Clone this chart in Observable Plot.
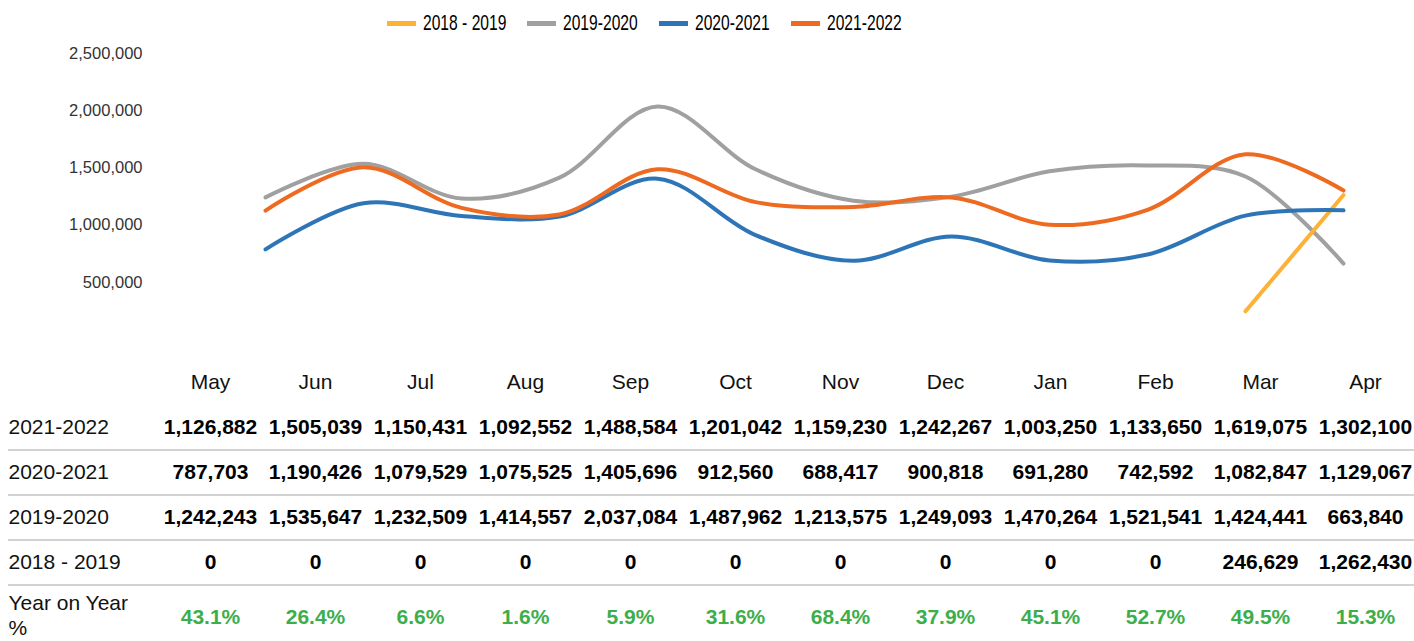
<!DOCTYPE html>
<html>
<head>
<meta charset="utf-8">
<script src="https://cdn.jsdelivr.net/npm/d3@7"></script>
<script src="https://cdn.jsdelivr.net/npm/@observablehq/plot@0.6"></script>
<style>
  html, body { margin: 0; padding: 0; background: #fff; }
  #wrap { position: relative; width: 1414px; height: 641px; overflow: hidden; }
  #legend { position: absolute; top: 10px; left: 387px; display: flex; align-items: center;
            font-family: "Liberation Sans", Arial, sans-serif;
            font-size: 22px; color: #000; white-space: nowrap; }
  #legend .item { display: flex; align-items: center; margin-right: 21px; }
  #legend .sw { width: 29px; height: 5px; margin-right: 7px; flex: none; }
  #legend .outer { display: inline-block; overflow: visible; }
  #legend .inner { display: inline-block; transform: scaleX(0.71); transform-origin: 0 50%; }
  svg { display: block; }
</style>
</head>
<body>
<div id="wrap">
  <div id="chart"></div>
  <div id="table"></div>
  <div id="legend"></div>
</div>
<script>
const months = ["May","Jun","Jul","Aug","Sep","Oct","Nov","Dec","Jan","Feb","Mar","Apr"];
const seriesNames = ["2018 - 2019","2019-2020","2020-2021","2021-2022"];
const colors = ["#FDB135","#A0A0A0","#2E75B8","#EE6A20"];
const v1819 = [0,0,0,0,0,0,0,0,0,0,246629,1262430];
const v1920 = [1242243,1535647,1232509,1414557,2037084,1487962,1213575,1249093,1470264,1521541,1424441,663840];
const v2021 = [787703,1190426,1079529,1075525,1405696,912560,688417,900818,691280,742592,1082847,1129067];
const v2122 = [1126882,1505039,1150431,1092552,1488584,1201042,1159230,1242267,1003250,1133650,1619075,1302100];
const yoy = ["43.1%","26.4%","6.6%","1.6%","5.9%","31.6%","68.4%","37.9%","45.1%","52.7%","49.5%","15.3%"];
const yTicks = [500000,1000000,1500000,2000000,2500000];
const tableRows = ["2021-2022","2020-2021","2019-2020","2018 - 2019"];
const yoyLabel = "Year on Year %";

const valuesBySeries = {"2018 - 2019": v1819, "2019-2020": v1920, "2020-2021": v2021, "2021-2022": v2122};
const drawOrder = ["2019-2020","2018 - 2019","2020-2021","2021-2022"];

const lineData = [];
drawOrder.forEach(name => valuesBySeries[name].forEach((v, j) => {
  if (v > 0) lineData.push({series: name, month: months[j], value: v});
}));

const fmt = d3.format(",");

// Legend
const legend = document.getElementById("legend");
const outers = [];
seriesNames.forEach((name, i) => {
  const it = document.createElement("div");
  it.className = "item";
  const sw = document.createElement("div");
  sw.className = "sw";
  sw.style.background = colors[i];
  const outer = document.createElement("span");
  outer.className = "outer";
  const inner = document.createElement("span");
  inner.className = "inner";
  inner.textContent = name;
  outer.appendChild(inner);
  it.appendChild(sw); it.appendChild(outer);
  legend.appendChild(it);
  outers.push([outer, inner]);
});
outers.forEach(([o, n]) => { o.style.width = n.getBoundingClientRect().width + "px"; });

const chart = Plot.plot({
  width: 1414, height: 345,
  marginTop: 53, marginBottom: 6, marginLeft: 150, marginRight: 66,
  style: {fontFamily: "Liberation Sans, Arial, sans-serif", color: "#333", background: "#fff"},
  x: {type: "point", domain: months, range: [260, 1348], padding: 0, axis: null},
  y: {domain: [0, 2500000], axis: null},
  color: {domain: seriesNames, range: colors},
  marks: [
    Plot.axisY({ticks: yTicks, tickSize: 0, tickPadding: 8, tickFormat: fmt, fontSize: 16.5, label: null}),
    Plot.line(lineData, {x: "month", y: "value", z: "series", stroke: "series",
      curve: "catmull-rom", strokeWidth: 4, strokeLinecap: "round", strokeLinejoin: "round"})
  ]
});
document.getElementById("chart").appendChild(chart);

const cells = [];
tableRows.forEach(r => valuesBySeries[r].forEach((v, j) => cells.push({row: r, month: months[j], text: fmt(v)})));
const yoyCells = yoy.map((t, j) => ({row: yoyLabel, month: months[j], text: t}));
const rowKeys = ["header", ...tableRows, yoyLabel];

const table = Plot.plot({
  width: 1414, height: 296,
  marginTop: 0, marginBottom: 0, marginLeft: 8, marginRight: 0,
  style: {fontFamily: "Liberation Sans, Arial, sans-serif", color: "#000", background: "#fff"},
  x: {type: "point", domain: months, range: [210, 1365], padding: 0, axis: null},
  y: {type: "point", domain: rowKeys, range: [36, 262], padding: 0, axis: null},
  marks: [
    Plot.ruleY(tableRows, {y: d => d, dy: 22.5, stroke: "#d2d2d2", strokeWidth: 2}),
    Plot.text(months, {x: d => d, y: () => "header", text: d => d, fontSize: 21, fill: "#111"}),
    Plot.text(tableRows, {y: d => d, text: d => d, frameAnchor: "left", textAnchor: "start", fontSize: 21, fill: "#111"}),
    Plot.text([yoyLabel], {y: d => d, text: () => "Year on Year\n%", frameAnchor: "left", textAnchor: "start",
      fontSize: 21, lineHeight: 1.2, dy: 7, fill: "#111"}),
    Plot.text(cells, {x: "month", y: "row", text: "text", fontSize: 21, fontWeight: "bold", fill: "#000"}),
    Plot.text(yoyCells, {x: "month", y: "row", text: "text", fontSize: 21, fontWeight: "bold", fill: "#3DAE4B", dy: 10})
  ]
});
document.getElementById("table").appendChild(table);
</script>
</body>
</html>
